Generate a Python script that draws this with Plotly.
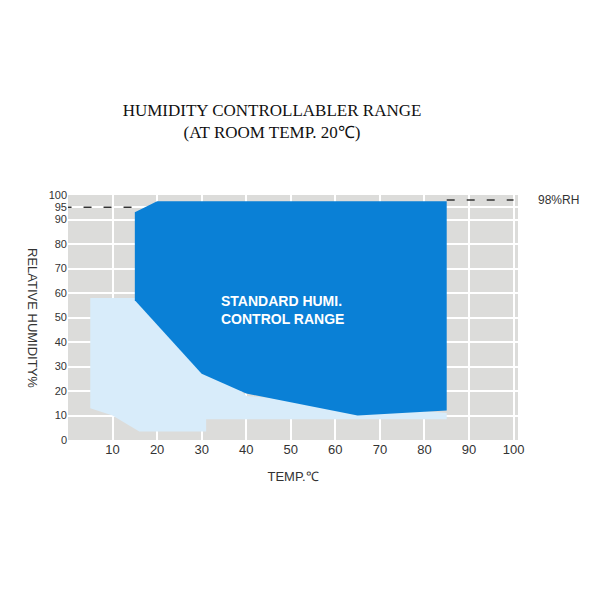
import plotly.graph_objects as go

# Standard humidity control range (dark blue) outline
std_temp = [15, 20, 85, 85, 65, 40, 30, 15, 15]
std_rh = [93, 97.5, 97.5, 12, 10, 19, 27, 57, 93]

# Extended low-humidity range (light blue) outline
low_temp = [5, 16, 40, 85, 85, 31, 31, 16, 10, 5, 5]
low_rh = [58, 58, 18, 11, 8.5, 8.5, 3.5, 3.5, 10, 13, 58]

# Dashed reference lines
left_dash_x = [-1, 15]
left_dash_y = [95, 95]
right_dash_x = [85, 100]
right_dash_y = [98, 98]

x_ticks = [10, 20, 30, 40, 50, 60, 70, 80, 90, 100]
y_ticks = [0, 10, 20, 30, 40, 50, 60, 70, 80, 90, 95, 100]

fig = go.Figure()

fig.add_trace(go.Scatter(x=low_temp, y=low_rh, fill="toself", mode="lines",
                         line=dict(width=0), fillcolor="#d8ecfa", hoverinfo="skip"))
fig.add_trace(go.Scatter(x=std_temp, y=std_rh, fill="toself", mode="lines",
                         line=dict(width=0), fillcolor="#0a80d6", hoverinfo="skip"))
fig.add_trace(go.Scatter(x=left_dash_x, y=left_dash_y, mode="lines",
                         line=dict(color="#333333", width=1.5, dash="8px,12px"), cliponaxis=False))
fig.add_trace(go.Scatter(x=right_dash_x, y=right_dash_y, mode="lines",
                         line=dict(color="#333333", width=1.5, dash="8px,12px")))

fig.add_annotation(x=34, y=53, text="<b>STANDARD HUMI.<br>CONTROL RANGE</b>", showarrow=False,
                   xanchor="left", align="left",
                   font=dict(family="Liberation Sans", size=14, color="white"))
fig.add_annotation(x=1.04, xref="paper", y=98, text="98%RH", showarrow=False, xanchor="left",
                   font=dict(family="Liberation Sans", size=12, color="#333333"))
fig.add_annotation(x=-0.10, xref="paper", y=0.5, yref="paper", text="RELATIVE HUMIDITY%",
                   textangle=90, showarrow=False,
                   font=dict(family="Liberation Sans", size=13, color="#333333"))

fig.update_layout(
    width=600, height=600,
    margin=dict(l=60, r=90, t=187, b=168),
    title=dict(text="HUMIDITY CONTROLLABLER RANGE<br>(AT ROOM TEMP. 20℃)",
               x=0.44, xanchor="center", y=0.82,
               font=dict(family="Liberation Serif", size=17, color="#111111")),
    plot_bgcolor="#dcdcda", paper_bgcolor="white",
    showlegend=False,
    xaxis=dict(range=[0, 101], tickvals=x_ticks, showgrid=True, gridcolor="white", gridwidth=1.5,
               zeroline=False, automargin=False,
               tickfont=dict(family="Liberation Sans", size=13, color="#333333"),
               title=dict(text="TEMP.℃", font=dict(family="Liberation Sans", size=13, color="#333333"))),
    yaxis=dict(range=[0, 100], tickvals=y_ticks, showgrid=True, gridcolor="white", gridwidth=1.5,
               zeroline=False, automargin=False,
               tickfont=dict(family="Liberation Sans", size=11, color="#333333")),
)

fig.write_html("out.html")
